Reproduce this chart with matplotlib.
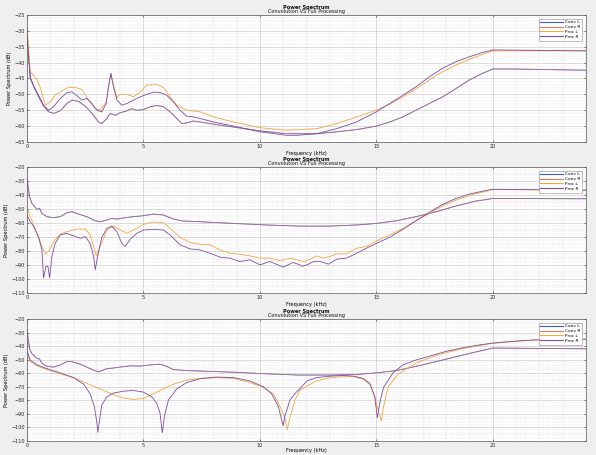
import numpy as np
import matplotlib
matplotlib.use('Agg')
import matplotlib.pyplot as plt
import matplotlib.ticker as mticker

plt.rcParams.update({
    'font.family': 'DejaVu Sans', 'font.size': 3.5,
    'figure.facecolor': '#efefef', 'axes.facecolor': 'white',
    'axes.edgecolor': '#5a5a5a', 'axes.linewidth': 0.5,
    'xtick.direction': 'in', 'ytick.direction': 'in',
    'xtick.major.size': 1.5, 'ytick.major.size': 1.5,
    'xtick.minor.size': 0, 'ytick.minor.size': 0,
    'xtick.major.width': 0.4, 'ytick.major.width': 0.4,
    'xtick.labelsize': 3.5, 'ytick.labelsize': 3.5,
    'xtick.major.pad': 1.5, 'ytick.major.pad': 1.5,
    'xtick.color': '#262626', 'ytick.color': '#262626',
})

SERIES = ['Conv L', 'Conv R', 'Proc L', 'Proc R']
COLORS = {'Conv L': '#3b5fc8', 'Conv R': '#e4735f',
          'Proc L': '#f5a544', 'Proc R': '#7a4e9e'}

# ---------------- panel 1 (kHz, dB) ----------------
p1_conv_f = [0, 0.14, 0.29, 0.5, 0.71, 0.93, 1.14, 1.43, 1.71, 1.93, 2.21, 2.5, 2.79,
             3.07, 3.21, 3.43, 3.57, 3.79, 4.0, 4.29, 4.5, 4.71, 5.0, 5.29, 5.57, 5.86,
             6.14, 6.43, 6.64, 6.86, 7.14, 7.43, 8.0, 8.86, 10.0, 11.14,
             11.59, 12.44, 13.3, 14.15, 15, 15.57, 16.14, 16.7, 17.27, 17.84, 18.41,
             18.98, 19.55, 20, 20.82, 24]
p1_conv_db = [-31, -44.5, -47.6, -50.8, -53.7, -55.5, -56, -55.2, -52.9, -51.8, -52.2, -53.7, -56,
              -58.7, -59.2, -57.6, -56, -56.6, -55.8, -55.2, -54.5, -55, -54.8, -53.9, -53.5, -53.9,
              -55.5, -57.6, -59.2, -59, -58.4, -58.7, -59.4, -60.3, -61.5, -62.4,
              -62.4, -62.4, -61.8, -61.1, -60, -58.7, -57.1, -55, -52.9, -50.8, -48.2,
              -45.5, -43.4, -42, -42, -42.4]

p1_procl_f = [0, 0.14, 0.29, 0.43, 0.57, 0.79, 1.0, 1.21, 1.5, 1.79, 2.07, 2.36, 2.64, 2.93,
              3.14, 3.4, 3.5, 3.6, 3.71, 3.86, 4.0, 4.29, 4.57, 4.86, 5.14, 5.57, 5.86, 6.14,
              6.43, 6.86, 7.43, 8.0, 8.86, 10.0, 11.14, 11.59, 12.44, 13.3, 14.15, 15,
              15.57, 16.14, 16.7, 17.27, 17.84, 18.41, 18.98, 19.55, 20, 24]
p1_procl_db = [-28.2, -42.9, -44, -45.5, -47.8, -53.4, -52.4, -50.3, -48.9, -47.8, -47.8, -48.5,
               -51.8, -54.5, -55, -52.4, -47.6, -43.4, -47, -51, -50, -50, -50.8, -49.2, -47.1,
               -46.9, -47.8, -50.8, -53.4, -55, -55.5, -57.1, -58.7, -60.5, -61.3, -61.1, -60.8,
               -59.2, -57.1, -55, -53.1, -50.8, -48.2, -45.5, -42.9, -40.8, -39, -37.4, -36.3, -36.3]

p1_procr_f = [0, 0.14, 0.29, 0.5, 0.71, 0.93, 1.14, 1.43, 1.71, 1.93, 2.21, 2.36, 2.57, 2.79,
              3.0, 3.21, 3.4, 3.5, 3.6, 3.71, 3.86, 4.07, 4.29, 4.57, 4.86, 5.14, 5.43, 5.71,
              6.0, 6.29, 6.57, 6.86, 7.14, 7.43, 8.0, 8.86, 10.0, 11.14,
              11.59, 12.44, 13.3, 14.15, 15, 15.57, 16.14, 16.7, 17.27, 17.84, 18.41,
              18.98, 19.55, 20, 24]
p1_procr_db = [-31.8, -45, -47.4, -50.3, -53.4, -55, -53.9, -51.3, -49.5, -49.2, -50.8, -51.8,
               -51.3, -52.9, -55, -55.5, -52.9, -47.6, -43.4, -47.6, -51.8, -53.4, -52.9, -51.8,
               -50.8, -50, -49.3, -49.4, -50.3, -52.4, -55, -56.9, -57.1, -57.6, -58.7, -60,
               -61.8, -62.9, -62.9, -62.4, -60.8, -58.7, -55.5, -52.9, -50.3, -47.6, -44.5,
               -41.8, -39.7, -38.2, -36.8, -36, -36.3]

# ---------------- panel 2 ----------------
p2_conv_f = [0, 0.11, 0.21, 0.43, 0.54, 0.64, 0.86, 1.14, 1.43, 1.71, 1.93, 2.21, 2.57, 2.93,
             3.14, 3.43, 3.64, 3.86, 4.21, 4.57, 5.0, 5.43, 5.86, 6.29, 6.71, 7.43, 8.86,
             10.29, 11.71, 13.01, 14.15, 15, 15.85, 16.7, 17.27, 17.56, 18.41, 19.26, 20, 24]
p2_conv_db = [-28.3, -41.3, -46, -50.3, -49.6, -53.2, -55.5, -56.2, -55.5, -52.7, -52, -53.6,
              -55.5, -58.4, -59.1, -57.9, -56.7, -57.2, -56.2, -55.5, -54.8, -53.6, -54.3, -57.2,
              -58.6, -59.1, -60.3, -61.4, -62.2, -62.2, -61.4, -60.3, -58.4, -55.5, -53.2, -52,
              -47.9, -44.4, -42.5, -42.7]

p2_procl_f = [0, 0.14, 0.29, 0.5, 0.64, 0.79, 0.93, 1.14, 1.43, 1.71, 2.14, 2.5, 2.71, 2.86,
              2.97, 3.14, 3.43, 3.71, 4.0, 4.29, 4.57, 5.0, 5.43, 5.86, 6.14, 6.57, 7.0, 7.43,
              7.86, 8.29, 8.71, 9.14, 9.57, 10.0, 10.43, 10.86, 11.29, 11.71,
              11.88, 12.16, 12.44, 12.73, 13.01, 13.3, 13.72, 14.15, 14.57, 15, 15.57, 16.14,
              16.7, 17.27, 17.84, 18.41, 18.98, 19.55, 20, 24]
p2_procl_db = [-49.6, -55.5, -61.4, -70.2, -76.8, -82, -80.3, -73.3, -67.8, -66.2, -64.3, -64.3,
               -68.5, -76.8, -83.5, -76.8, -65, -62.2, -65, -67.4, -65, -61, -59.3, -59.8, -63.8,
               -70.2, -74, -75.2, -75.6, -79.2, -81.6, -82.3, -83.5, -85.1, -85.1, -87, -85.1,
               -86.8, -87.5, -85.8, -83.5, -85.1, -83.9, -82, -82, -78, -76.8, -72.8, -68.5,
               -63.8, -58.4, -53.2, -47.9, -43.7, -40.4, -38, -36.1, -36.6]

p2_procr_f = [0, 0.14, 0.29, 0.5, 0.64, 0.71, 0.81, 0.9, 0.97, 1.07, 1.21, 1.43, 1.71, 2.0,
              2.29, 2.5, 2.71, 2.86, 2.93, 3.03, 3.21, 3.43, 3.64, 3.86, 4.07, 4.21, 4.43, 4.71,
              5.0, 5.43, 5.86, 6.14, 6.57, 7.0, 7.43, 7.86, 8.29, 8.71, 9.14, 9.57, 10.0, 10.43,
              11.0, 11.43, 11.71, 11.8, 12.02, 12.3, 12.59, 12.94, 13.3, 13.72, 14.15, 14.57,
              15, 15.57, 16.14, 16.7, 17.27, 17.84, 18.41, 18.98, 19.55, 20, 24]
p2_procr_db = [-54.3, -59.1, -62.6, -70.2, -79.2, -99.3, -91, -91, -99.3, -83.9, -74.5, -68.5,
               -67.4, -69.2, -70.9, -69.7, -74.5, -83.9, -93.4, -83.9, -70.2, -63.8, -62.2, -66.2,
               -74.5, -76.8, -71.6, -67.4, -65, -64.5, -65, -68.5, -75.6, -78.5, -79.2, -81.6,
               -84.4, -85.1, -87.5, -86.3, -89.9, -87.5, -91.5, -88.2, -89.9, -91, -89.9, -87.5,
               -87.5, -89.4, -85.8, -85.1, -81.6, -78, -74.5, -70.2, -64.5, -58.4, -52.4, -46.8,
               -42.5, -39.4, -37.3, -35.9, -36.6]

# ---------------- panel 3 ----------------
p3_conv_f = [0, 0.11, 0.21, 0.43, 0.54, 0.64, 0.86, 1.14, 1.43, 1.71, 1.93, 2.29, 2.71, 3.07,
             3.43, 3.71, 4.0, 4.43, 4.86, 5.29, 5.71, 6.0, 6.29, 6.86, 7.71, 8.86, 10.29, 11.71,
             13.01, 14.15, 15, 15.85, 16.7, 17.56, 18.41, 19.26, 20, 24]
p3_conv_db = [-27.8, -42, -45.6, -49.1, -49.6, -52.7, -55, -55.5, -53.9, -51.5, -51.5, -53.4,
              -56.7, -59.1, -56.7, -56.2, -55.5, -54.6, -54.8, -53.9, -53.4, -55, -57.4, -58.1,
              -58.6, -59.3, -60.5, -61.4, -61.4, -61, -59.8, -58.1, -55, -51.5, -47.9, -44.4,
              -41.5, -42]

p3_procl_f = [0, 0.14, 0.43, 0.86, 1.43, 2.0, 2.57, 3.14, 3.71, 4.14, 4.57, 5.0, 5.43, 5.86,
              6.29, 6.86, 7.43, 8.14, 8.86, 9.57, 10.14, 10.57, 10.86, 11.07, 11.17, 11.29,
              11.5, 11.71, 12.02, 12.44, 13.01, 13.58, 14.01, 14.43, 14.72, 14.93, 15.07, 15.21,
              15.31, 15.5, 15.85, 16.28, 16.7, 17.27, 17.98, 18.69, 19.4, 20, 20.82, 21.82, 24]
p3_procl_db = [-45.6, -51.5, -54.6, -57.4, -60.5, -63.3, -67.6, -71.6, -75.9, -78.3, -79.4,
               -78.7, -75.2, -71.6, -68.1, -65.2, -63.8, -63.3, -63.8, -66.9, -70.4, -75.2, -84.6,
               -92.9, -101.7, -92.9, -79.9, -72.8, -69.3, -65.7, -63.3, -62.6, -62.6, -64.5,
               -68.5, -77.5, -87, -95.3, -84.6, -70.4, -62.2, -56.7, -52.7, -48.7, -44.9, -42,
               -39.7, -38, -36.6, -35.6, -34.9]

p3_procr_f = [0, 0.14, 0.43, 0.86, 1.43, 2.0, 2.43, 2.71, 2.89, 3.0, 3.04, 3.1, 3.21, 3.43,
              3.71, 4.14, 4.57, 5.0, 5.36, 5.57, 5.71, 5.81, 5.9, 6.07, 6.43, 6.86, 7.43, 8.14,
              8.86, 9.57, 10.14, 10.5, 10.79, 11.0, 11.07, 11.29, 11.5, 11.71, 12.02, 12.44,
              13.01, 13.58, 14.01, 14.43, 14.72, 14.93, 15.04, 15.14, 15.31, 15.71, 16.14, 16.7,
              17.27, 17.98, 18.69, 19.4, 20, 20.82, 21.82, 24]
p3_procr_db = [-43.2, -50.3, -53.9, -56.7, -59.8, -63.3, -68.1, -75.2, -84.6, -96.5, -103.6,
               -96.5, -83.5, -77.5, -74.7, -73.3, -72.8, -74, -77.5, -82.3, -89.4, -104, -91.7,
               -79.9, -71.6, -66.9, -64.1, -62.9, -63.3, -65.7, -70, -75.2, -84.6, -98.9, -91.7,
               -79.9, -75.2, -71.6, -65.7, -63.3, -62.2, -61.7, -62.2, -63.8, -67.6, -77.5,
               -92.9, -82.3, -70.4, -59.8, -53.9, -50.3, -47.5, -44, -41.3, -39.2, -37.8, -36.6,
               -35.4, -34.9]

PANELS = [
    # (conv, proc L, proc R, ylim, y tick step, axes rect, xlabel pad)
    ((p1_conv_f, p1_conv_db), (p1_procl_f, p1_procl_db), (p1_procr_f, p1_procr_db),
     (-65, -25), 5, [0.0453, 0.688, 0.938, 0.279], 1.5),
    ((p2_conv_f, p2_conv_db), (p2_procl_f, p2_procl_db), (p2_procr_f, p2_procr_db),
     (-110, -20), 10, [0.0453, 0.356, 0.938, 0.277], 1.5),
    ((p3_conv_f, p3_conv_db), (p3_procl_f, p3_procl_db), (p3_procr_f, p3_procr_db),
     (-110, -20), 10, [0.0453, 0.031, 0.938, 0.268], 0.3),
]

fig = plt.figure(figsize=(5.96, 4.55), dpi=100)

for conv, procl, procr, ylim, ystep, rect, xpad in PANELS:
    ax = fig.add_axes(rect)
    curves = {'Conv L': conv, 'Conv R': conv, 'Proc L': procl, 'Proc R': procr}
    for name in SERIES:
        f, db = curves[name]
        a = 0.6 if name == 'Conv R' else 1.0
        ax.plot(f, db, color=COLORS[name], lw=0.6, alpha=a, label=name)

    ax.set_xlim(0, 24)
    ax.set_ylim(*ylim)
    ax.xaxis.set_major_locator(mticker.MultipleLocator(5))
    ax.xaxis.set_minor_locator(mticker.MultipleLocator(1))
    ax.yaxis.set_major_locator(mticker.MultipleLocator(ystep))
    ax.yaxis.set_minor_locator(mticker.AutoMinorLocator(5))
    ax.tick_params(top=True, right=True)
    ax.grid(True, which='major', color='#c8c8c8', lw=0.45, ls='-')
    ax.grid(True, which='minor', color='#c4c4c4', lw=0.35, ls=(0, (1, 1.5)))
    ax.set_axisbelow(True)

    ax.text(0.5, 1.062, 'Power Spectrum', transform=ax.transAxes, ha='center',
            va='center', fontsize=3.6, fontweight='bold', color='#111111')
    ax.text(0.5, 1.025, 'Convolution VS Full Processing', transform=ax.transAxes,
            ha='center', va='center', fontsize=3.6, color='#111111')
    ax.set_xlabel('Frequency (kHz)', fontsize=3.6, labelpad=xpad)
    ax.set_ylabel('Power Spectrum (dB)', fontsize=3.6, labelpad=2)

    leg = ax.legend(loc='upper right', fontsize=3.2, handlelength=5, handletextpad=0.6,
                    borderpad=0.4, labelspacing=0.15, borderaxespad=0.8,
                    fancybox=False, edgecolor='#8a8a8a', framealpha=1)
    leg.get_frame().set_linewidth(0.4)
    for line in leg.get_lines():
        line.set_linewidth(0.8)
        line.set_alpha(1)

fig.savefig('out.png', dpi=100, facecolor=fig.get_facecolor())
